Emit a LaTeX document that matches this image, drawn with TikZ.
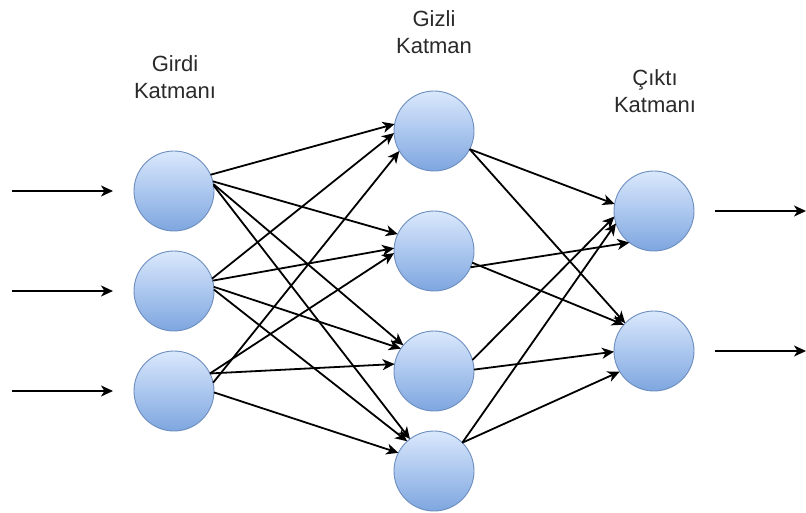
\documentclass[tikz,border=0pt]{standalone}
\usepackage{fontspec}
\setmainfont{Liberation Sans}
\usetikzlibrary{arrows.meta}
\definecolor{nodetop}{HTML}{DAE8FC}
\definecolor{nodebot}{HTML}{7EA6E0}
\definecolor{nodeline}{HTML}{6C8EBF}
\definecolor{labeltext}{HTML}{2A2A2A}
\tikzset{
  neuron/.style={circle, minimum size=80pt, inner sep=0pt, outer sep=0pt,
    draw=nodeline, line width=0.9pt, top color=nodetop, bottom color=nodebot},
  link/.style={draw=black, line width=1.8pt,
    -{Stealth[length=12pt,width=11pt,inset=3.5pt]}},
  layername/.style={align=center, text=labeltext,
    font=\fontsize{22pt}{27pt}\selectfont}
}
\begin{document}
\begin{tikzpicture}[x=1pt,y=-1pt]
\useasboundingbox (0,0) rectangle (806,513);

% layer titles
\node[layername] (tin)  at (175,77) {Girdi\\Katmanı};
\node[layername] (thid) at (434,32) {Gizli\\Katman};
\node[layername] (tout) at (655,91) {Çıktı\\Katmanı};

% neurons
\node[neuron] (i1) at (174,191) {};
\node[neuron] (i2) at (174,291) {};
\node[neuron] (i3) at (174,391) {};
\node[neuron] (h1) at (434,131) {};
\node[neuron] (h2) at (434,251) {};
\node[neuron] (h3) at (434,371) {};
\node[neuron] (h4) at (434,471) {};
\node[neuron] (o1) at (654,211) {};
\node[neuron] (o2) at (654,351) {};

% incoming signals
\coordinate (s1) at (12,191);  \coordinate (e1) at (113,191);
\coordinate (s2) at (12,291);  \coordinate (e2) at (113,291);
\coordinate (s3) at (12,391);  \coordinate (e3) at (113,391);
\draw[link] (s1) -- (e1);
\draw[link] (s2) -- (e2);
\draw[link] (s3) -- (e3);

% outgoing signals
\coordinate (p1) at (715,211); \coordinate (q1) at (806,211);
\coordinate (p2) at (715,351); \coordinate (q2) at (806,351);
\draw[link] (p1) -- (q1);
\draw[link] (p2) -- (q2);

% input -> hidden
\draw[link] (i1.24) -- (h1.170);
\draw[link] (i1.14) -- (h2.155);
\draw[link] (i1.10) -- (h3.140);
\draw[link] (i1.8)  -- (h4.127);
\draw[link] (i2.18) -- (h1.183);
\draw[link] (i2.15) -- (h2.176);
\draw[link] (i2.6)  -- (h3.146);
\draw[link] (i2.2)  -- (h4.132);
\draw[link] (i3.12) -- (h1.210);
\draw[link] (i3.26) -- (h2.183);
\draw[link] (i3.26) -- (h3.170);
\draw[link] (i3.-2) -- (h4.153);

% hidden -> output
\draw[link] (h1.-27) -- (o1.170);
\draw[link] (h1.-27) -- (o2.136);
\draw[link] (h2.-24) -- (o1.232);
\draw[link] (h2.-17) -- (o2.139);
\draw[link] (h3.16)  -- (o1.188);
\draw[link] (h3.2)   -- (o2.181);
\draw[link] (h4.45)  -- (o1.198);
\draw[link] (h4.45)  -- (o2.211);
\end{tikzpicture}
\end{document}
